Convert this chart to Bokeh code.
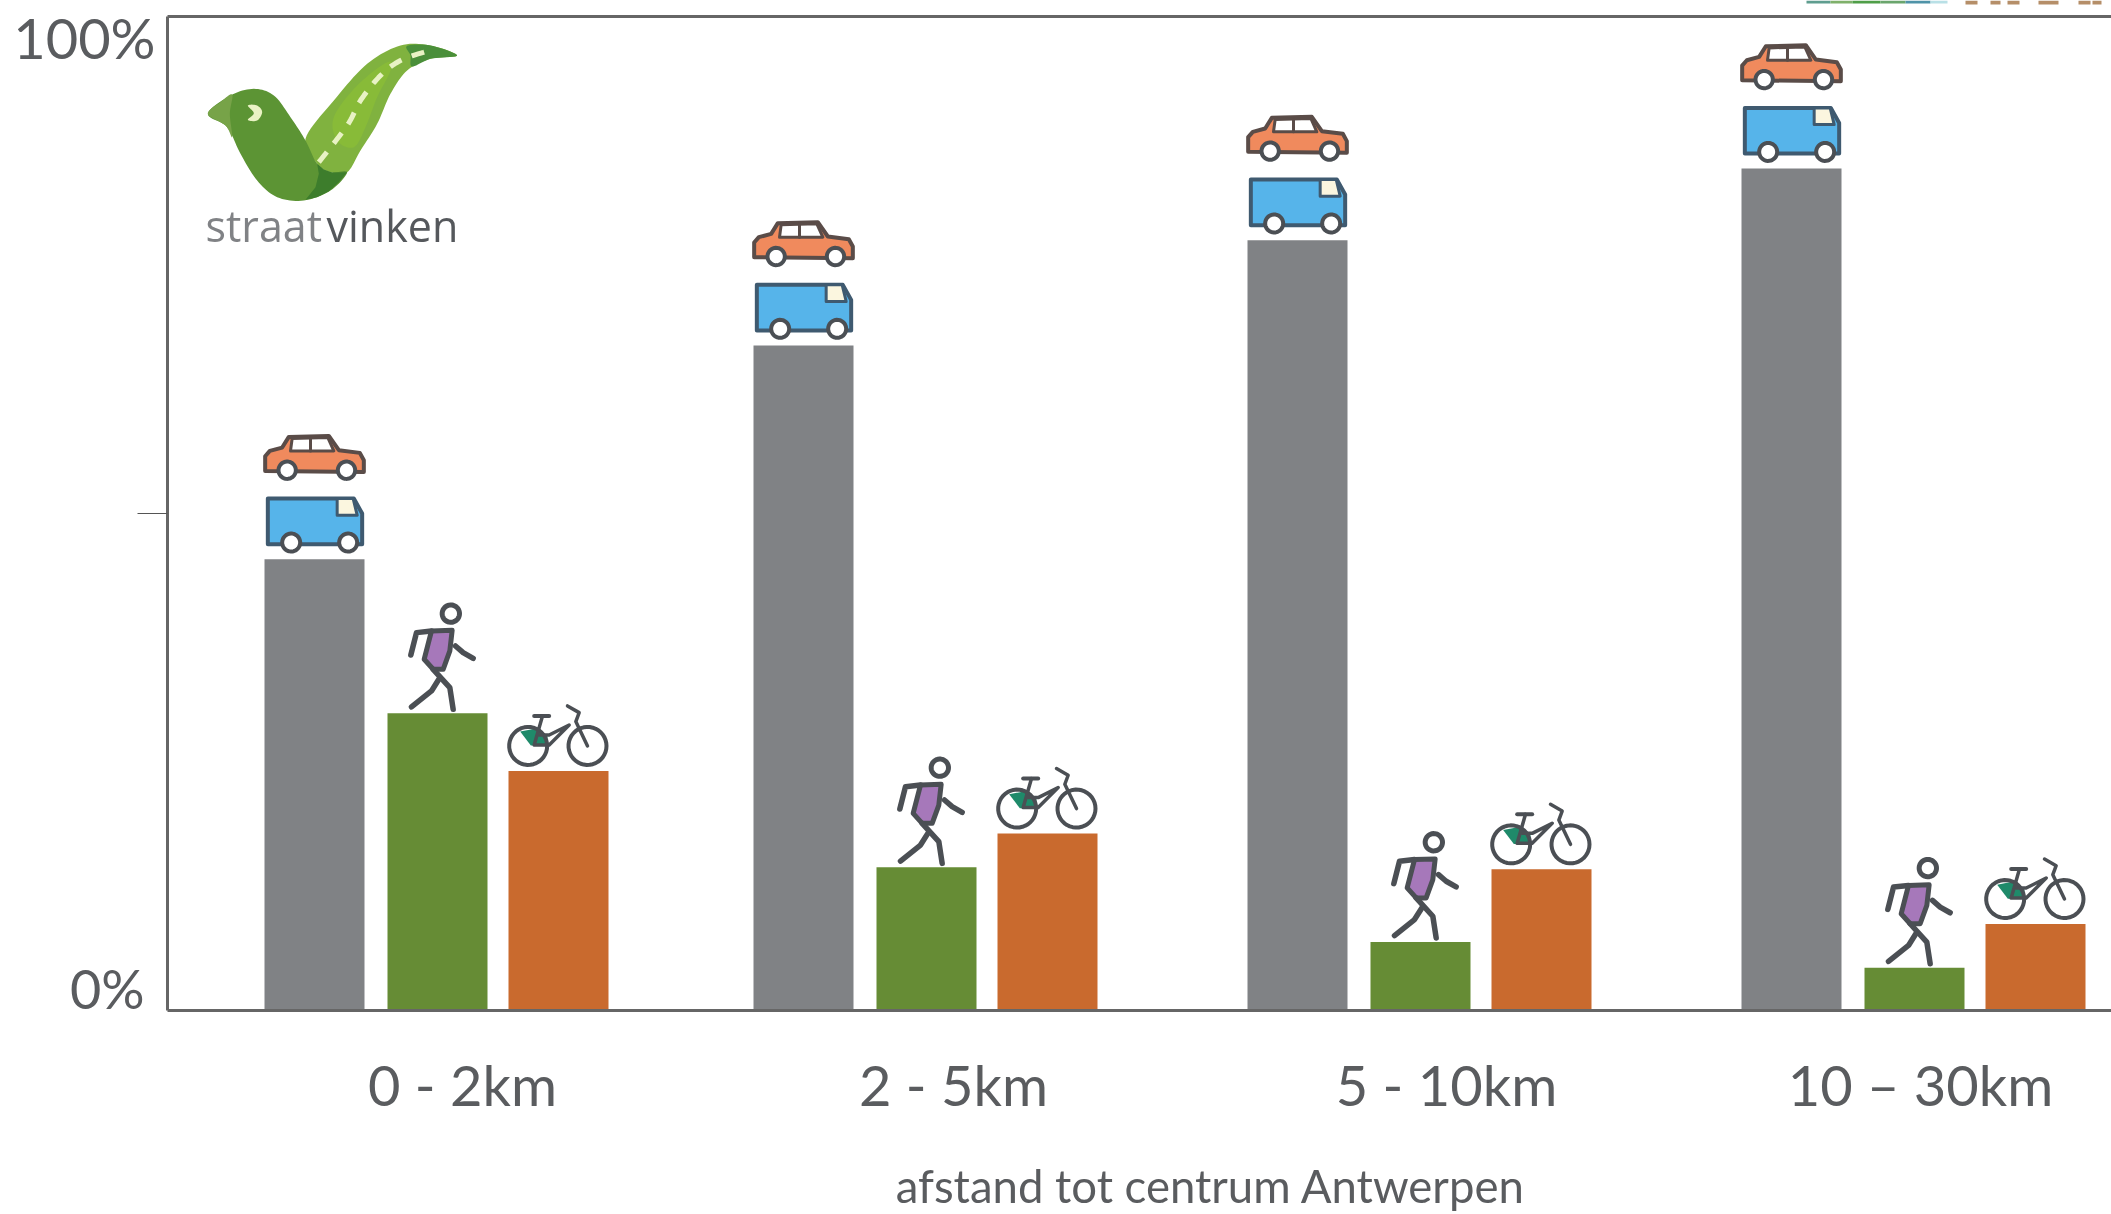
from bokeh.plotting import figure
from bokeh.embed import file_html
from bokeh.resources import INLINE
from bokeh.models import Range1d, LinearAxis, FixedTicker, Label
import numpy as np

categories = ["0 - 2km", "2 - 5km", "5 - 10km", "10 – 30km"]
motor_vehicles = [45.4, 66.9, 77.5, 84.7]
pedestrians = [29.9, 14.4, 6.9, 4.3]
cyclists = [24.1, 17.8, 14.2, 8.7]
y_labels = ["0%", "100%"]
x_title = "afstand tot centrum Antwerpen"

W, H = 2111, 1214
LEFT, TOP, BOTTOM = 167, 16, 1010
group_left = [264, 753, 1247, 1741]
tick_x = [462, 953, 1446, 1920]
BW, G2, G3 = 100, 123, 244
INK = "#4b4f54"
TXT = "#5a5c5f"
AX = "#666666"
FONT = "Lato"
SCALE = 100 / (BOTTOM - TOP)

p = figure(width=W, height=H, min_border=0, output_backend="svg", toolbar_location=None,
           x_range=Range1d(0, W), y_range=Range1d((BOTTOM - H) * SCALE, BOTTOM * SCALE),
           x_axis_type=None, y_axis_type=None)
p.styles = {"position": "fixed", "left": "0px", "top": "0px"}
p.grid.visible = False
p.outline_line_color = None
p.background_fill_color = "white"
p.extra_y_ranges = {"px": Range1d(H, 0)}

def val_px(v):
    return BOTTOM - v / 100 * (BOTTOM - TOP)

def smooth(pts, closed=True, n=10):
    pts = np.array(pts, float)
    m = len(pts)
    out = []
    rng = range(m) if closed else range(m - 1)
    for i in rng:
        if closed:
            a, b, c, d = pts[(i - 1) % m], pts[i], pts[(i + 1) % m], pts[(i + 2) % m]
        else:
            a, b, c, d = pts[max(i - 1, 0)], pts[i], pts[i + 1], pts[min(i + 2, m - 1)]
        for t in np.linspace(0, 1, n, endpoint=False):
            out.append(0.5 * (2 * b + (c - a) * t + (2 * a - 5 * b + 4 * c - d) * t ** 2 + (3 * b - a - 3 * c + d) * t ** 3))
    if not closed:
        out.append(pts[-1])
    return np.array(out)

# bars
for off, vals, col in [(0, motor_vehicles, "#808285"), (G2, pedestrians, "#668c35"), (G3, cyclists, "#c96a2e")]:
    p.vbar(x=[g + off + BW / 2 for g in group_left], top=vals, bottom=0, width=BW, color=col, line_color=None)

def place(pts, ax, ay, oz):
    return [ax + (x - oz[0]) / 3 for x, y in pts], [ay + (y - oz[1]) / 3 for x, y in pts]

def poly(pts, ax, ay, oz, fill, line=INK, lw=3.5):
    xs, ys = place(pts, ax, ay, oz)
    p.patch(xs, ys, fill_color=fill, line_color=line, line_width=lw, line_join="round", y_range_name="px")

def path(pts, ax, ay, oz, line=INK, lw=5.5):
    xs, ys = place(pts, ax, ay, oz)
    p.line(xs, ys, line_color=line, line_width=lw, line_cap="round", line_join="round", y_range_name="px")

def wheel(cx, cy, r, ax, ay, oz, lw=4, fill="white", line=INK):
    t = np.linspace(0, 2 * np.pi, 40)
    pts = [(cx + r * np.cos(a), cy + r * np.sin(a)) for a in t]
    xs, ys = place(pts, ax, ay, oz)
    p.patch(xs, ys, fill_color=fill, line_color=line, line_width=lw, y_range_name="px")

for g, mv, pd_, cy in zip(group_left, motor_vehicles, pedestrians, cyclists):
    # car + van
    o = (72, 417)
    ay = val_px(mv)
    poly([(74, 152), (74, 108), (88, 92), (125, 82), (145, 50), (265, 47), (295, 90), (358, 98), (370, 120), (370, 155)],
         g, ay, o, "#f08a5d", line="#5a4c48", lw=4)
    poly([(150, 92), (155, 55), (262, 52), (280, 92)], g, ay, o, "white", line="#5a4c48", lw=3)
    path([(210, 55), (210, 92)], g, ay, o, line="#5a4c48", lw=3)
    wheel(140, 150, 26, g, ay, o)
    wheel(318, 150, 26, g, ay, o)
    poly([(82, 235), (340, 235), (365, 280), (365, 372), (82, 372)], g, ay, o, "#56b4ea", line="#3f5a70", lw=4)
    poly([(290, 235), (338, 235), (350, 285), (290, 285)], g, ay, o, "#fbf6df", line="#3f5a70", lw=3)
    wheel(152, 367, 27, g, ay, o)
    wheel(323, 367, 27, g, ay, o)
    # walker
    o = (438, 877)
    gx = g + G2
    ay = val_px(pd_)
    poly([(570, 630), (632, 628), (625, 690), (605, 745), (575, 745), (548, 715)], gx, ay, o, "#a678ba", lw=5)
    wheel(628, 578, 26, gx, ay, o, lw=5)
    path([(508, 702), (525, 635), (570, 630)], gx, ay, o)
    path([(642, 675), (665, 695), (695, 712)], gx, ay, o)
    path([(575, 745), (625, 800), (635, 865)], gx, ay, o)
    path([(592, 775), (570, 810), (510, 858)], gx, ay, o)
    # bicycle
    o = (803, 1053)
    gx = g + G3
    ay = val_px(cy)
    poly([(838, 935), (890, 925), (920, 950), (920, 977), (870, 977)], gx, ay, o, "#1f8a6a", line=None, lw=0)
    wheel(862, 978, 57, gx, ay, o, fill=None)
    wheel(1040, 978, 57, gx, ay, o, fill=None)
    path([(880, 888), (925, 888)], gx, ay, o, lw=4)
    path([(905, 888), (880, 975), (925, 975), (985, 915), (925, 945), (895, 945)], gx, ay, o, lw=3.5)
    path([(980, 858), (1015, 878), (1005, 905), (1040, 978)], gx, ay, o, lw=3.5)

# logo (zoom units: 3 per pixel from its corner)
lx, ly = 190, 30
def logo_patch(arr, col):
    p.patch(lx + arr[:, 0] / 3, ly + arr[:, 1] / 3, fill_color=col, line_color=None, y_range_name="px")

road_pts = [(345, 325), (430, 210), (530, 100), (630, 45), (720, 45), (800, 75), (720, 85), (650, 120),
            (600, 190), (560, 280), (510, 360), (470, 425), (420, 425), (380, 400)]
road_hi_pts = [(430, 260), (500, 165), (590, 95), (600, 120), (560, 200), (525, 290), (490, 350), (440, 330)]
tail_pts = [(650, 46), (720, 45), (800, 75), (720, 85), (665, 108), (660, 75)]
body_pts = [(52, 250), (120, 195), (190, 175), (250, 195), (300, 260), (345, 330), (380, 400), (420, 425), (470, 425),
            (420, 480), (340, 510), (260, 500), (200, 450), (150, 370), (110, 290)]
shade = np.array([(380, 400), (400, 417), (425, 426), (470, 425), (445, 455), (415, 482), (380, 500), (345, 508), (375, 470), (385, 430)], float)
head_pts = [(52, 250), (90, 215), (125, 192), (118, 250), (125, 320), (105, 285)]
eye_pts = [(172, 225), (200, 225), (215, 245), (200, 270), (172, 268), (190, 248)]
for pts, col in [(road_pts, "#80b23f"), (road_hi_pts, "#88bb38"), (tail_pts, "#4a8f3a"),
                 (body_pts, "#5c9434"), (head_pts, "#77a348"), (eye_pts, "#eaf3c4")]:
    logo_patch(smooth(pts), col)
logo_patch(shade, "#3d7d2c")
dash = smooth([(385, 395), (470, 285), (510, 210), (570, 135), (630, 90), (710, 62)], closed=False)
p.line(lx + dash[:, 0] / 3, ly + dash[:, 1] / 3, line_color="#e8f2c4", line_width=5, line_dash="13 11", y_range_name="px")

def lab(text, x, y, size, color=TXT, align="left", base="middle", font=FONT):
    p.add_layout(Label(x=x, y=y, y_range_name="px", text=text, text_font=font,
                       text_font_size=f"{size}px", text_color=color, text_align=align, text_baseline=base))

# axes
yaxis = LinearAxis(ticker=FixedTicker(ticks=[50]), major_label_overrides={50: ""}, bounds=(0, 100),
                   fixed_location=LEFT, major_tick_out=30, major_tick_in=0, major_tick_line_color="#555555",
                   major_tick_line_width=1, minor_tick_line_color=None, axis_line_color=AX, axis_line_width=3)
p.add_layout(yaxis, "left")
xaxis = LinearAxis(ticker=FixedTicker(ticks=tick_x), bounds=(LEFT, W), fixed_location=0,
                   major_label_overrides={t: c for t, c in zip(tick_x, categories)},
                   major_tick_line_color=None, minor_tick_line_color=None, axis_line_color=AX, axis_line_width=3,
                   major_label_text_font=FONT, major_label_text_font_size="56px", major_label_text_color=TXT,
                   major_label_standoff=34)
p.add_layout(xaxis, "below")
p.line([LEFT, W], [100, 100], line_color=AX, line_width=3)

lab(y_labels[1], 155, 37, 56, align="right")
lab(y_labels[0], 144, 988, 54, align="right")
lab(x_title, 1210, 1185, 45.5, align="center")
lab("straat", 205, 225, 43, color="#808285", base="alphabetic", font="Open Sans")
lab("vinken", 326, 225, 43, color="#55585c", base="alphabetic", font="Open Sans")

# cropped banner remnants along the top edge of the picture
strip_x = [1806, 1830, 1852, 1880, 1905, 1930]
strip_w = [24, 22, 28, 25, 25, 17]
strip_c = ["#5f9d8f", "#7fb06a", "#4f9e48", "#6aa56d", "#4f93a8", "#b9e0e6"]
p.quad(left=strip_x, right=[a + b for a, b in zip(strip_x, strip_w)], top=[0] * 6, bottom=[3] * 6,
       fill_color=strip_c, line_color=None, y_range_name="px")
blob_x = [1965, 1990, 2007, 2038, 2078, 2092]
blob_w = [12, 10, 12, 20, 12, 9]
p.quad(left=blob_x, right=[a + b for a, b in zip(blob_x, blob_w)], top=[0] * 6, bottom=[4] * 6,
       fill_color="#b58e68", line_color=None, y_range_name="px")

open("out.html", "w").write(file_html(p, INLINE))
